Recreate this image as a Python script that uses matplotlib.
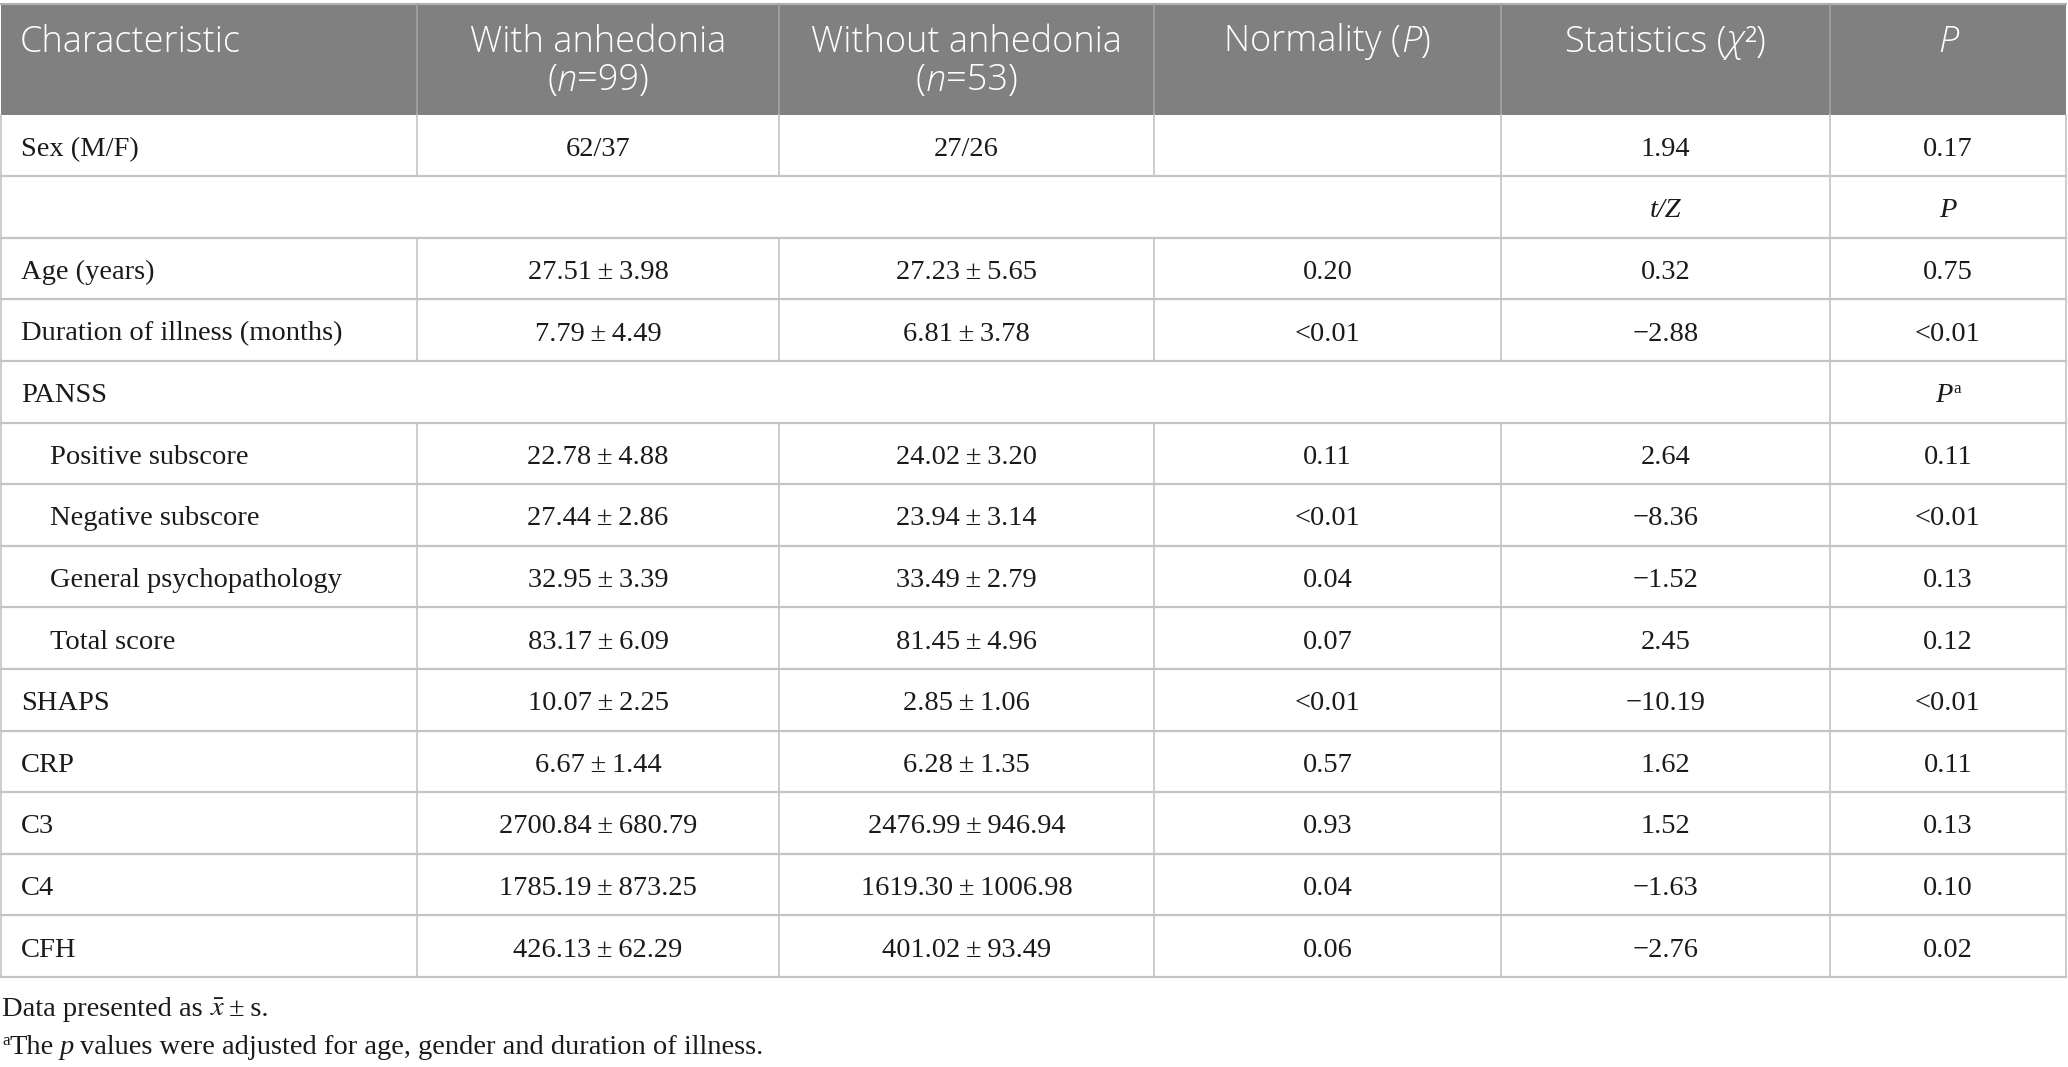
"""
Table 1 recreation: demographic and clinical characteristics of patients
with and without anhedonia, drawn as a matplotlib figure (out.png).
"""
import matplotlib

matplotlib.use("Agg")
import matplotlib.pyplot as plt

plt.rcParams["mathtext.fontset"] = "stix"

# ------------------------------------------------------------------ data

row_labels = [
    "Sex (M/F)", "", "Age (years)", "Duration of illness (months)", "PANSS",
    "Positive subscore", "Negative subscore", "General psychopathology",
    "Total score", "SHAPS", "CRP", "C3", "C4", "CFH",
]
indented = [False, False, False, False, False, True, True, True, True,
            False, False, False, False, False]
with_anh = [
    "62/37", "", "27.51\u2009\u00b1\u20093.98", "7.79\u2009\u00b1\u20094.49", "",
    "22.78\u2009\u00b1\u20094.88", "27.44\u2009\u00b1\u20092.86",
    "32.95\u2009\u00b1\u20093.39", "83.17\u2009\u00b1\u20096.09",
    "10.07\u2009\u00b1\u20092.25", "6.67\u2009\u00b1\u20091.44",
    "2700.84\u2009\u00b1\u2009680.79", "1785.19\u2009\u00b1\u2009873.25",
    "426.13\u2009\u00b1\u200962.29",
]
without_anh = [
    "27/26", "", "27.23\u2009\u00b1\u20095.65", "6.81\u2009\u00b1\u20093.78", "",
    "24.02\u2009\u00b1\u20093.20", "23.94\u2009\u00b1\u20093.14",
    "33.49\u2009\u00b1\u20092.79", "81.45\u2009\u00b1\u20094.96",
    "2.85\u2009\u00b1\u20091.06", "6.28\u2009\u00b1\u20091.35",
    "2476.99\u2009\u00b1\u2009946.94", "1619.30\u2009\u00b1\u20091006.98",
    "401.02\u2009\u00b1\u200993.49",
]
normality = ["", "", "0.20", "<0.01", "", "0.11", "<0.01", "0.04", "0.07",
             "<0.01", "0.57", "0.93", "0.04", "0.06"]
statistic = ["1.94", "t/Z", "0.32", "\u22122.88", "", "2.64", "\u22128.36",
             "\u22121.52", "2.45", "\u221210.19", "1.62", "1.52", "\u22121.63",
             "\u22122.76"]
p_values = ["0.17", "P", "0.75", "<0.01", "Pa", "0.11", "<0.01", "0.13",
            "0.12", "<0.01", "0.11", "0.13", "0.10", "0.02"]

# --------------------------------------------------------------- layout

W, H = 2068, 1067
col_edges = [1, 417, 779, 1154, 1501, 1830, 2066]
head_top, head_bot = 4, 114.5
row_h = 61.6
header_gray = "#7f807f"
line_gray = "#c4c4c4"
serif = "Liberation Serif"
sans = "Open Sans"
body_fs = 20.5
head_fs = 26

fig = plt.figure(figsize=(W / 100, H / 100), dpi=100)
ax = fig.add_axes([0, 0, 1, 1])
ax.set_xlim(0, W)
ax.set_ylim(H, 0)
ax.axis("off")
renderer = fig.canvas.get_renderer()


def draw_runs(x, y, parts, ha="left", va="center", **kw):
    """Draw a line made of styled pieces. parts: (text, dict) or gap float."""
    items = []
    for part in parts:
        if isinstance(part, (int, float)):
            items.append(part)
            continue
        s, opts = part
        o = dict(kw)
        o.update(opts)
        dy = o.pop("dy", 0)
        t = ax.text(0, y + dy, s, ha="left", va=va, **o)
        items.append(t)
    widths = [i if isinstance(i, (int, float))
              else i.get_window_extent(renderer).width for i in items]
    total = sum(widths)
    cx = x - total / 2 if ha == "center" else x
    for it, w in zip(items, widths):
        if not isinstance(it, (int, float)):
            it.set_x(cx)
        cx += w


# header band
ax.fill_between([col_edges[0], col_edges[-1]], head_top, head_bot,
                color=header_gray, lw=0, zorder=0)
ax.plot([col_edges[0], col_edges[-1]], [head_top, head_top], color="#b0b0b0",
        lw=1.5, zorder=1)
for xe in col_edges[1:-1]:
    ax.plot([xe, xe], [head_top, head_bot], color="#a4a4a4", lw=1.2, zorder=1)

hk = dict(color="white", fontsize=head_fs, family=sans, fontweight=300)
y1, y2 = 42, 81
mid = [(col_edges[i] + col_edges[i + 1]) / 2 for i in range(6)]
draw_runs(20, y1, [("Characteristic", {})], **hk)
draw_runs(mid[1], y1, [("With anhedonia", {})], ha="center", **hk)
draw_runs(mid[1], y2, [("(", {}), ("n", {"fontstyle": "italic"}), ("=99)", {})],
          ha="center", **hk)
draw_runs(mid[2], y1, [("Without anhedonia", {})], ha="center", **hk)
draw_runs(mid[2], y2, [("(", {}), ("n", {"fontstyle": "italic"}), ("=53)", {})],
          ha="center", **hk)
draw_runs(mid[3], y1, [("Normality (", {}), ("P", {"fontstyle": "italic"}),
                       (")", {})], ha="center", **hk)
draw_runs(mid[4], y1, [("Statistics (", {}), ("\u03c7", {"fontstyle": "italic"}),
                       ("\u00b2)", {})], ha="center", **hk)
draw_runs(mid[5], y1, [("P", {"fontstyle": "italic"})], ha="center", **hk)

# body grid
n_rows = len(row_labels)
row_tops = [head_bot + i * row_h for i in range(n_rows + 1)]
for yb in row_tops[1:]:
    ax.plot([col_edges[0], col_edges[-1]], [yb, yb], color=line_gray, lw=1.6,
            zorder=1)
for i in range(n_rows):
    y0, y1b = row_tops[i], row_tops[i + 1]
    if row_labels[i] == "":
        inner = [col_edges[4], col_edges[5]]
    elif row_labels[i] == "PANSS":
        inner = [col_edges[5]]
    else:
        inner = col_edges[1:-1]
    for xe in [col_edges[0], col_edges[-1]] + list(inner):
        ax.plot([xe, xe], [y0, y1b], color=line_gray, lw=1.2, zorder=1)

bk = dict(color="#1a1a1a", fontsize=body_fs, family=serif)
for i in range(n_rows):
    yc = (row_tops[i] + row_tops[i + 1]) / 2 + 4
    if row_labels[i]:
        draw_runs(50 if indented[i] else 21, yc, [(row_labels[i], {})], **bk)
    for c, col in ((1, with_anh), (2, without_anh), (3, normality),
                   (4, statistic), (5, p_values)):
        s = col[i]
        if not s:
            continue
        if s == "t/Z" or s == "P":
            draw_runs(mid[c], yc, [(s, {"fontstyle": "italic"})], ha="center",
                      **bk)
        elif s == "Pa":
            draw_runs(mid[c], yc, [("P", {"fontstyle": "italic"}),
                                   ("a", {"fontsize": body_fs * 0.6, "dy": -7})],
                      ha="center", **bk)
        else:
            draw_runs(mid[c], yc, [(s, {})], ha="center", **bk)

# footnotes
fk = dict(color="#1a1a1a", fontsize=body_fs, family=serif)
draw_runs(2, 1009, [("Data presented as", {}), 7,
                    (r"$\bar{x}$", {}), 4, ("\u00b1\u2009s.", {})], **fk)
draw_runs(2, 1048, [("a", {"fontsize": body_fs * 0.6, "dy": -7}),
                    ("The", {}), 6, ("p", {"fontstyle": "italic"}), 6,
                    ("values were adjusted for age, gender and duration of illness.",
                     {})], **fk)

fig.savefig("out.png", dpi=100)
